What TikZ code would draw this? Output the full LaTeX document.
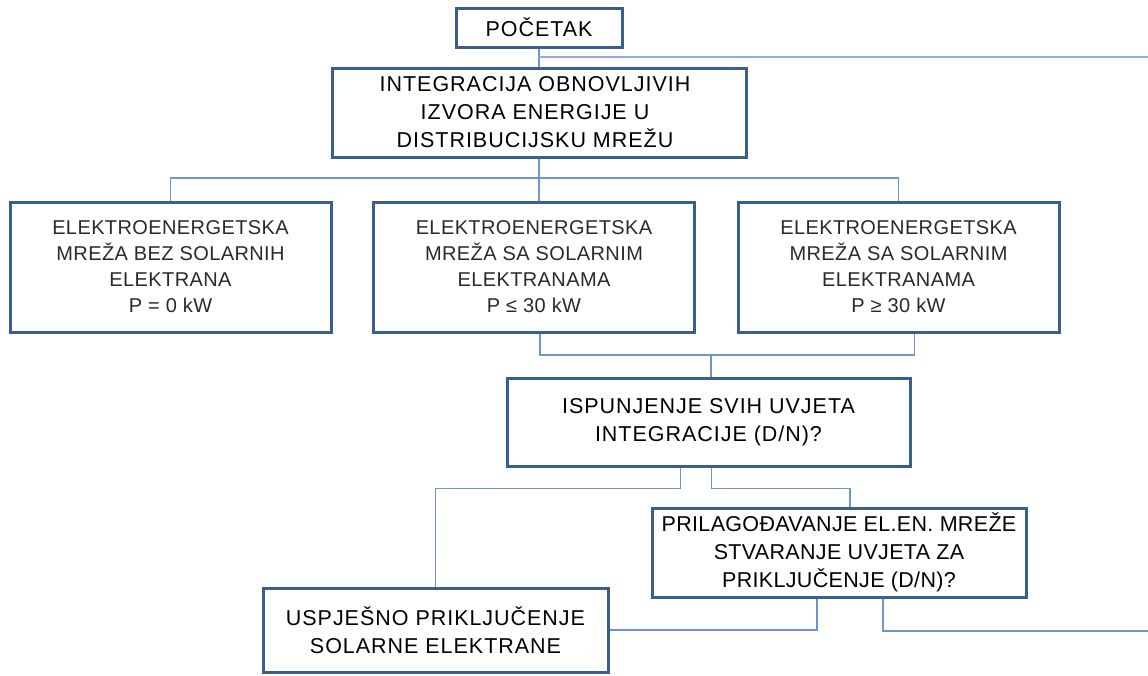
\documentclass[tikz,border=0pt]{standalone}
\usepackage{fontspec}
\setmainfont{Liberation Sans}
\newfontfamily\mainfam[LetterSpace=4.5]{Liberation Sans}
\newfontfamily\tightfam[LetterSpace=1.5]{Liberation Sans}
\newfontfamily\rowfam[LetterSpace=2]{Liberation Sans}
\begin{document}
\definecolor{boxblue}{HTML}{3B5E8C}
\definecolor{linkblue}{HTML}{6F96CA}
\definecolor{toplink}{HTML}{8EADD8}
\definecolor{greytext}{HTML}{2A2A2A}
\tikzset{
  mainbox/.style={draw=boxblue, line width=3pt, fill=white, inner sep=0pt, align=center,
    font=\mainfam\fontsize{21.5}{28}\selectfont, text=black},
  rowbox/.style={draw=boxblue, line width=3pt, fill=white, inner sep=0pt, align=center,
    minimum width=321pt, minimum height=130pt,
    font=\rowfam\fontsize{20}{26}\selectfont, text=greytext},
  txt/.style={inner sep=0pt, align=center, font=\mainfam\fontsize{21.5}{28}\selectfont, text=black},
  conn/.style={draw=linkblue, line width=1.4pt},
}
\begin{tikzpicture}[x=1pt, y=-1pt]
\useasboundingbox[fill=white] (0,0) rectangle (1148,675);
\coordinate (j0) at (539,57);
\coordinate (outT) at (1148,57);
\coordinate (h1) at (539,178);
\coordinate (h2) at (711,355);
\coordinate (outB) at (1148,631);

\node[mainbox, minimum width=166pt, minimum height=39pt] (P) at (539,27.5) {POČETAK};
\node[mainbox, minimum width=414pt, minimum height=89pt] (I) at (539,112.5) {};
\node[txt] (It) at ([xshift=-4pt]I.center) {INTEGRACIJA OBNOVLJIVIH\\IZVORA ENERGIJE U\\DISTRIBUCIJSKU MREŽU};

\node[rowbox] (B1) at (170.5,267) {ELEKTROENERGETSKA\\MREŽA BEZ SOLARNIH\\ELEKTRANA\\P = 0 kW};
\node[rowbox] (B2) at (534,267) {ELEKTROENERGETSKA\\MREŽA SA SOLARNIM\\ELEKTRANAMA\\P ≤ 30 kW};
\node[rowbox] (B3) at (898.5,267) {ELEKTROENERGETSKA\\MREŽA SA SOLARNIM\\ELEKTRANAMA\\P ≥ 30 kW};

\node[mainbox, minimum width=403pt, minimum height=88pt] (Q) at (708.5,422) {ISPUNJENJE SVIH UVJETA\\INTEGRACIJE (D/N)?};

\node[mainbox, minimum width=374pt, minimum height=89pt, font=\tightfam\fontsize{21.5}{28}\selectfont] (A) at (839,552.5) {PRILAGOĐAVANJE EL.EN. MREŽE\\STVARANJE UVJETA ZA\\PRIKLJUČENJE (D/N)?};
\node[mainbox, minimum width=345pt, minimum height=84pt] (U) at (435.5,630) {USPJEŠNO PRIKLJUČENJE\\SOLARNE ELEKTRANE};

\draw[conn] (P.south) -- (I.north);
\draw[draw=toplink, line width=2pt] (j0) -- (outT);
\draw[conn] (I.south) -- (I.south |- B2.north);
\draw[conn] (B1.north) |- (h1) -| (B3.north);
\draw[conn] ([xshift=6pt]B2.south) |- (h2) -| ([xshift=16pt]B3.south);
\draw[conn] (h2) -- (h2 |- Q.north);
\draw[conn] ([xshift=-28pt]Q.south) -- ++(0,21) -| (U.north);
\draw[conn] ([xshift=3pt]Q.south) -- ++(0,21) -| ([xshift=11pt]A.north);
\draw[conn] ([xshift=-22pt]A.south) |- (U.east);
\draw[conn] ([xshift=44pt]A.south) |- (outB);
\end{tikzpicture}
\end{document}
